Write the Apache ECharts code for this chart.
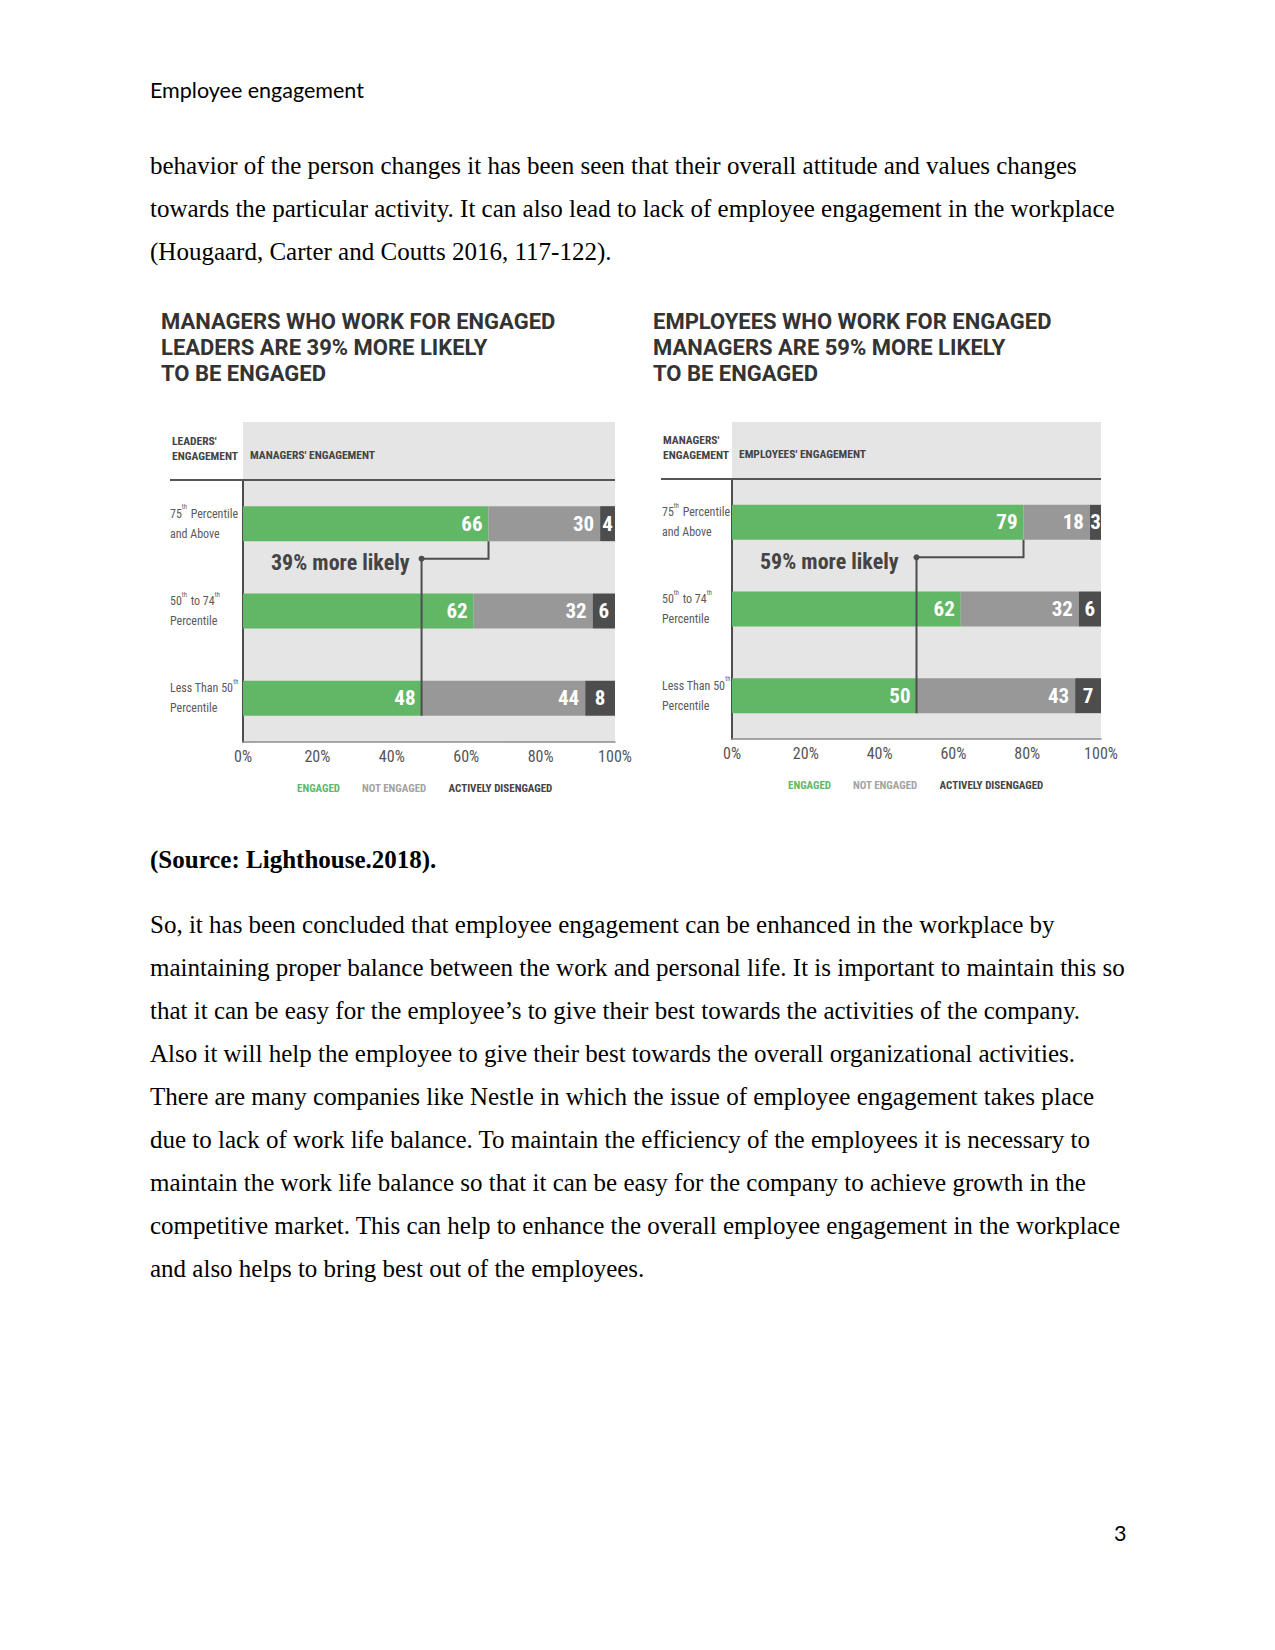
<!DOCTYPE html>
<html><head><meta charset="utf-8">
<script src="https://cdn.jsdelivr.net/npm/echarts@6/dist/echarts.min.js"></script>
<style>html,body{margin:0;padding:0;background:#fff;} #c{width:1275px;height:1650px;}</style>
</head><body><div id="c"></div>
<script>
// ---------- data ----------
const categories = ['75th Percentile\nand Above', '50th to 74th\nPercentile', 'Less Than 50th\nPercentile'];
const seriesNames = ['ENGAGED', 'NOT ENGAGED', 'ACTIVELY DISENGAGED'];
const leftEngaged = [66, 62, 48];
const leftNotEngaged = [30, 32, 44];
const leftDisengaged = [4, 6, 8];
const rightEngaged = [79, 62, 50];
const rightNotEngaged = [18, 32, 43];
const rightDisengaged = [3, 6, 7];
const tickLabels = ['0%', '20%', '40%', '60%', '80%', '100%'];
const leftTitle = 'MANAGERS WHO WORK FOR ENGAGED\nLEADERS ARE 39% MORE LIKELY\nTO BE ENGAGED';
const rightTitle = 'EMPLOYEES WHO WORK FOR ENGAGED\nMANAGERS ARE 59% MORE LIKELY\nTO BE ENGAGED';
const leftAxisTitles = ["LEADERS'\nENGAGEMENT", "MANAGERS' ENGAGEMENT"];
const rightAxisTitles = ["MANAGERS'\nENGAGEMENT", "EMPLOYEES' ENGAGEMENT"];
const callouts = ['39% more likely', '59% more likely'];
const pageHeader = 'Employee engagement';
const para1 = [
  'behavior of the person changes it has been seen that their overall attitude and values changes',
  'towards the particular activity. It can also lead to lack of employee engagement in the workplace',
  '(Hougaard, Carter and Coutts 2016, 117-122).'
];
const sourceLine = '(Source: Lighthouse.2018).';
const para2 = [
  'So, it has been concluded that employee engagement can be enhanced in the workplace by',
  'maintaining proper balance between the work and personal life. It is important to maintain this so',
  'that it can be easy for the employee\u2019s to give their best towards the activities of the company.',
  'Also it will help the employee to give their best towards the overall organizational activities.',
  'There are many companies like Nestle in which the issue of employee engagement takes place',
  'due to lack of work life balance. To maintain the efficiency of the employees it is necessary to',
  'maintain the work life balance so that it can be easy for the company to achieve growth in the',
  'competitive market. This can help to enhance the overall employee engagement in the workplace',
  'and also helps to bring best out of the employees.'
];
const pageNumber = '3';

// ---------- style / layout ----------
const NARROW = '"Roboto Condensed", "Open Sans Condensed", "DejaVu Sans Condensed", sans-serif';
const TITLE_FONT = 'Roboto, "Liberation Sans", sans-serif';
const SERIF = '"Liberation Serif", "Times New Roman", serif';
const SANS = 'Lato, "Open Sans", sans-serif';
const COLORS = ['#62b767', '#989898', '#4d4d4d'];
const LEGEND_COLORS = ['#62b767', '#a3a3a3', '#444444'];
const BG = '#e5e5e5';
const panels = [
  {left: 243, top: 480, width: 372, height: 262, headTop: 422, lineLeft: 170, titleLeft: 161, titleTop: 308,
   legendLeft: 292, legendTop: 782, labelMargin: 73, title: leftTitle, axisTitles: leftAxisTitles,
   values: [leftEngaged, leftNotEngaged, leftDisengaged], callout: callouts[0]},
  {left: 732, top: 479, width: 369, height: 260, headTop: 422, lineLeft: 661, titleLeft: 653, titleTop: 308,
   legendLeft: 783, legendTop: 779, labelMargin: 70, title: rightTitle, axisTitles: rightAxisTitles,
   values: [rightEngaged, rightNotEngaged, rightDisengaged], callout: callouts[1]}
];
const BAR_W = 35;

const chart = echarts.init(document.getElementById('c'), null, {renderer: 'svg', width: 1275, height: 1650});

const option = {
  backgroundColor: '#ffffff',
  animation: false,
  title: panels.map(p => ({
    text: p.title, left: p.titleLeft, top: p.titleTop, padding: 0,
    textStyle: {fontFamily: TITLE_FONT, fontWeight: 'bold', fontSize: 22, lineHeight: 26, color: '#333333'}
  })),
  legend: panels.map((p, i) => ({
    left: p.legendLeft, top: p.legendTop, padding: 0, icon: 'none', itemWidth: 0, itemHeight: 12, itemGap: 17,
    selectedMode: false,
    data: seriesNames.map((n, k) => ({name: n, textStyle: {color: LEGEND_COLORS[k]}})),
    textStyle: {fontFamily: NARROW, fontWeight: 'bold', fontSize: 11}
  })),
  grid: panels.map(p => ({
    left: p.left, top: p.top, width: p.width, height: p.height, show: true,
    backgroundColor: BG, borderWidth: 0, containLabel: false
  })),
  xAxis: panels.map((p, i) => ({
    type: 'value', gridIndex: i, min: 0, max: 100, interval: 20,
    axisLine: {show: true, lineStyle: {color: '#8c8c8c', width: 1.5}},
    axisTick: {show: false}, splitLine: {show: false},
    axisLabel: {margin: 6, color: '#555555', fontFamily: NARROW, fontSize: 16,
      formatter: v => tickLabels[Math.round(v / 20)]}
  })),
  yAxis: panels.map((p, i) => ({
    type: 'category', gridIndex: i, data: categories, inverse: true,
    axisLine: {show: true, lineStyle: {color: '#4d4d4d', width: 2}},
    axisTick: {show: false},
    axisLabel: {align: 'left', margin: p.labelMargin, color: '#5a5a5a', fontFamily: NARROW, fontSize: 12, lineHeight: 20,
      overflow: 'none', width: 120,
      formatter: v => v.replace(/(\d+)th/g, '$1{s|th}'),
      rich: {s: {fontSize: 6.5, lineHeight: 20, verticalAlign: 'top', color: '#5a5a5a', fontFamily: NARROW, padding: [0, 1, 0, 0]}}}
  })),
  series: []
};
panels.forEach((p, i) => {
  seriesNames.forEach((n, k) => {
    option.series.push({
      name: n, type: 'bar', xAxisIndex: i, yAxisIndex: i, stack: 'panel' + i,
      barWidth: BAR_W, data: p.values[k],
      itemStyle: {color: COLORS[k]},
      label: {show: true, position: k === 2 ? 'inside' : 'insideRight', distance: 6,
        color: '#ffffff', fontFamily: NARROW, fontWeight: 'bold', fontSize: 21}
    });
  });
});
chart.setOption(option);

// ---------- graphic: panel headers, callouts, page text ----------
const graphic = [];
panels.forEach((p, i) => {
  graphic.push({type: 'rect', z: 0, shape: {x: p.left, y: p.headTop, width: p.width, height: p.top - p.headTop}, style: {fill: BG}});
  graphic.push({type: 'line', z: 50, shape: {x1: p.lineLeft, y1: p.top, x2: p.left + p.width, y2: p.top}, style: {stroke: '#555555', lineWidth: 2}});
  graphic.push({type: 'text', z: 50, style: {text: p.axisTitles[0], x: p.lineLeft + 2, y: p.top - 47, verticalAlign: 'top',
    font: 'bold 11.5px ' + NARROW, lineHeight: 15.5, fill: '#444444'}});
  graphic.push({type: 'text', z: 50, style: {text: p.axisTitles[1], x: p.left + 7, y: p.top - 31.5, verticalAlign: 'top',
    font: 'bold 11.5px ' + NARROW, fill: '#444444'}});
  // callout connector computed from the axes
  const eng = p.values[0];
  const top = chart.convertToPixel({gridIndex: i}, [eng[0], 0]);
  const low = chart.convertToPixel({gridIndex: i}, [eng[2], 2]);
  const yc = top[1] + BAR_W;
  graphic.push({type: 'polyline', z: 60, shape: {points: [[top[0], top[1] + BAR_W / 2], [top[0], yc], [low[0], yc], [low[0], low[1] + BAR_W / 2]]},
    style: {stroke: '#4d4d4d', lineWidth: 2, fill: null}});
  graphic.push({type: 'circle', z: 61, shape: {cx: low[0], cy: yc, r: 3}, style: {fill: '#4d4d4d'}});
  graphic.push({type: 'text', z: 60, style: {text: p.callout, x: p.left + 28, y: yc + 4, verticalAlign: 'middle',
    font: 'bold 22px ' + NARROW, fill: '#444444'}});
});

function addLine(text, y, font, x) {
  graphic.push({type: 'text', z: 10, style: {text: text, x: x === undefined ? 150 : x, y: y, verticalAlign: 'middle', font: font, fill: '#000000'}});
}
addLine(pageHeader, 89.5, '21.5px ' + SANS);
para1.forEach((t, k) => addLine(t, 165.5 + k * 43, '25px ' + SERIF));
addLine(sourceLine, 859.5, 'bold 25px ' + SERIF);
para2.forEach((t, k) => addLine(t, 924 + k * 43.1, '25px ' + SERIF));
addLine(pageNumber, 1533, '21.5px ' + SANS, 1114);

chart.setOption({graphic: graphic});
</script>
</body></html>
